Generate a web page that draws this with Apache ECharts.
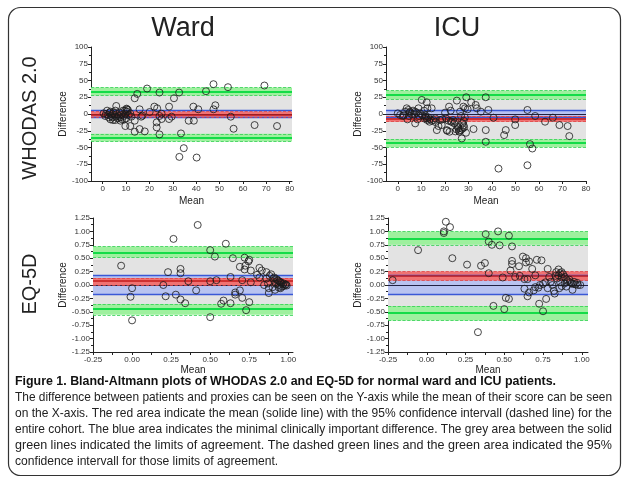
<!DOCTYPE html>
<html><head><meta charset="utf-8">
<script src="https://cdn.jsdelivr.net/npm/echarts@6/dist/echarts.min.js"></script>
<style>html,body{margin:0;padding:0;background:#fff}#c{width:629px;height:477px}</style>
</head><body><div id="c"></div><script>
// ---------- DATA ----------
var panelTitles = ['Ward', 'ICU'];
var rowTitles = ['WHODAS 2.0', 'EQ-5D'];
var whodasXTicks = [0, 10, 20, 30, 40, 50, 60, 70, 80];
var eqXTicks = [-0.25, 0, 0.25, 0.5, 0.75, 1.0];

var wardWhodasPoints = [
 [69.2,42.5],[47.4,44.5],[53.6,40],[44.2,34],[19,38],[14.8,30],[24.3,32],[32.7,32],[13.7,23.5],[30.5,23.5],
 [48.2,13],[47.4,7],[38.8,11],[40.9,7],[28.4,11],[22.1,11],[23.3,8.5],[15.8,7],[20.1,3],[10.4,7],[5.8,12],
 [54.8,-4],[56,-22],[65,-16.5],[74.6,-18],[36.8,-10],[39,-10],[33.5,-29],[24.3,-30.5],[23.1,-12.5],[23.1,-20],
 [18,-26],[15.8,-22.5],[13.7,-26.5],[13.7,-10],[9.7,-18],[11.8,-18],[17,-2.5],[25.2,0.5],[24.3,-3],[25.2,-7.5],
 [28.4,-7.5],[29.5,-4],[34.7,-51],[32.8,-64],[40.2,-65],[7.6,-10],[9.4,-8],
 [0.4,1],[1.4,0],[1.9,5],[2.3,-1.5],[2.9,2],[3.3,3.5],[3.6,-3],[4.0,0],[4.3,-5],[4.7,2],[5.0,-1.5],[5.4,5],
 [5.7,-4],[6.1,0],[6.4,-6.5],[6.8,-3],[7.3,2],[7.6,-5],[8.0,-1.5],[8.3,-8],[9.0,-3],[9.7,0],[10.4,3.5],
 [10.8,6],[11.1,-1.5],[11.8,1],[12.3,-4],[10.1,-6.5],[8.7,5],[2.6,-5],[1.1,-3],[4.4,-9],[3.3,-8],[5.4,-9],
 [9.5,5],[10.2,8],[16.5,-4]
];
var icuWhodasPoints = [
 [0,1],[1,-1.5],[2.1,-3],[3.1,3.5],[3.8,8.5],[4.5,6],[5.2,3.5],[4.1,-8],[6,0],[7.4,3.5],[7.4,-14],[8.4,-8],
 [8.8,8.5],[10.2,21],[11.2,5],[12.3,17.5],[12.6,8.5],[13,-5],[13.5,-11.5],[14.4,8.5],[15.2,-9],[9.5,1],
 [11.6,-1.5],[12.3,-6.5],[13.7,-8],[15.9,-6.5],[16.6,-24],[17.3,-18],[18.7,-16.5],[20.1,2],[20.5,-6.5],
 [20.8,-24],[21.8,11],[22,-26.5],[22.5,5],[25.1,20],[24.4,-11.5],[25.8,-21.5],[26.2,-26.5],[26.5,3.5],
 [26.9,-3],[27.2,-36.5],[27.9,11],[28.2,-20],[28.6,8.5],[29.1,25],[29.7,7],[31.2,17.5],[32.2,-22.5],
 [33.1,13.5],[33.6,8.5],[35.3,3.5],[37.4,25],[37.4,-24],[37.4,-41.5],[38.5,6],[40.7,-5.5],[42.8,-81.5],
 [45.2,-31.5],[45.9,-24],[49.9,-8],[49.9,-16.5],[55.1,6],[55.1,-76.5],[56.2,-45],[57.2,-51.5],[58.4,-3],
 [62.6,-11.5],[65.9,-5.5],[68.7,-16.5],[72.2,-18],[72.9,-33],
 [25,-23],[25.5,-19],[26,-25],[26.8,-24],[27.5,-22],[28,-17],[27.5,-14],[28,-10],[28.5,-5],[10.5,-2],
 [11.5,-7],[12.5,-9],[11.8,-4],[14.5,-10],[16,-12],[19,-8],[21.5,-10],[23,-12],[24,-14],[18,-9],[8,2],
 [9,-3],[2.5,-2],[5,2],[6.5,5],[4.8,-3],[7,-1],[22.5,-11],[23.5,-9],[21,-25],[24.5,-26],[29,-28]
];
var wardEqPoints = [
 [-0.07,0.36],[0.0,-0.06],[-0.01,-0.22],[0.0,-0.66],[0.265,0.86],[0.23,0.24],[0.2,0.0],[0.215,-0.21],
 [0.28,-0.18],[0.31,0.30],[0.31,0.22],[0.31,-0.27],[0.34,-0.34],[0.36,0.07],[0.41,-0.10],[0.42,1.12],
 [0.50,0.65],[0.53,0.53],[0.50,0.07],[0.54,0.09],[0.50,-0.60],[0.60,0.77],[0.645,0.50],[0.63,0.15],
 [0.57,-0.35],[0.585,-0.29],[0.63,-0.34],[0.66,-0.14],[0.66,-0.18],[0.69,-0.10],[0.69,0.34],[0.705,-0.24],
 [0.705,0.09],[0.72,0.51],[0.72,0.29],[0.725,0.36],[0.745,0.44],[0.75,0.47],[0.75,-0.32],[0.73,-0.47],
 [0.76,0.05],[0.76,0.27],[0.80,0.19],[0.815,0.32],[0.83,0.27],[0.815,0.14],[0.845,0.0],[0.86,0.24],
 [0.86,0.12],[0.875,-0.06],[0.875,-0.15],[0.89,0.20],[0.905,0.12],[0.915,0.05],[0.90,-0.04],[0.93,0.09],
 [0.94,0.0],[0.95,0.05],[0.96,-0.03],[0.965,0.01],[0.97,-0.02],[0.98,0.0],[0.915,-0.09],[0.94,-0.05],
 [0.95,-0.06],[0.88,0.17],[0.91,0.14],[0.925,0.11],[0.935,0.08],[0.945,0.06],[0.955,0.04],[0.97,0.03],
 [0.985,0.01],[0.99,-0.01],[0.92,0.02],[0.87,0.03]
];
var icuEqPoints = [
 [-0.22,0.09],[-0.056,0.65],[0.11,1.0],[0.11,0.97],[0.123,1.18],[0.15,1.08],[0.165,0.50],[0.26,0.38],
 [0.33,-0.88],[0.35,0.36],[0.375,0.41],[0.38,0.95],[0.40,0.81],[0.42,0.75],[0.40,0.22],[0.43,-0.39],
 [0.46,1.0],[0.47,0.74],[0.49,0.14],[0.50,-0.45],[0.51,-0.24],[0.53,-0.26],[0.53,0.92],[0.55,0.72],
 [0.55,0.45],[0.55,0.39],[0.54,0.27],[0.57,0.15],[0.60,0.17],[0.595,0.35],[0.62,0.53],[0.64,0.50],
 [0.63,0.11],[0.65,0.11],[0.64,0.42],[0.66,0.44],[0.68,0.30],[0.70,0.18],[0.71,0.47],[0.74,0.46],
 [0.63,-0.07],[0.66,-0.14],[0.65,-0.21],[0.69,-0.10],[0.72,-0.05],[0.725,-0.35],[0.75,-0.49],[0.77,-0.26],
 [0.78,0.30],[0.765,0.05],[0.79,0.15],[0.81,0.0],[0.82,-0.11],[0.825,-0.16],[0.835,0.24],[0.85,0.29],
 [0.86,0.22],[0.87,0.14],[0.88,0.20],[0.89,0.15],[0.90,0.11],[0.91,0.07],[0.925,0.05],[0.935,0.03],
 [0.945,0.02],[0.96,0.01],[0.975,0.0],[0.99,0.0],[0.94,-0.09],[0.855,-0.06],[0.78,-0.06],[0.80,0.06],
 [0.84,0.12],[0.86,0.05],[0.87,-0.02],[0.89,0.03],[0.90,-0.03],[0.75,0.02],[0.73,0.0],[0.70,-0.04],
 [0.83,0.17],[0.85,0.18],[0.87,0.24],[0.92,0.1],[0.95,0.06],[0.97,0.04]
];
// [mean, ciLow, ciHigh]
var wardWhodasMean = [-1, -5, 3.5];
var wardWhodasUpper = [33, 27.5, 39.5];
var wardWhodasLower = [-35, -41, -29.5];
var icuWhodasMean = [-7.5, -11.5, -3];
var icuWhodasUpper = [28, 22, 35];
var icuWhodasLower = [-43, -49.5, -37.5];
var wardEqMean = [0.07, 0.0, 0.13];
var wardEqUpper = [0.61, 0.515, 0.72];
var wardEqLower = [-0.45, -0.555, -0.355];
var icuEqMean = [0.17, 0.085, 0.25];
var icuEqUpper = [0.86, 0.75, 1.0];
var icuEqLower = [-0.51, -0.66, -0.39];
var whodasMcid = 5;
var eqMcid = 0.18;

var captionTitle = 'Figure 1. Bland-Altmann plots of WHODAS 2.0 and EQ-5D for normal ward and ICU patients.';
var caption = [
  'The difference between patients and proxies can be seen on the Y-axis while the mean of their score can be seen',
  'on the X-axis. The red area indicate the mean (solide line) with the 95% confidence intervall (dashed line) for the',
  'entire cohort. The blue area indicates the minimal clinically important difference. The grey area between the solid',
  'green lines indicated the limits of agreement. The dashed green lines and the green area indicated the 95%',
  'confidence intervall for those limits of agreement.'
];

// ---------- CHART ----------
var chart = echarts.init(document.getElementById('c'), null, {renderer: 'canvas'});
var FONT = "'Liberation Sans', Arial, sans-serif";

var grids = [
  {left: 91, width: 201, top: 47, height: 134},
  {left: 386, width: 200, top: 47, height: 134},
  {left: 93, width: 200, top: 218, height: 134},
  {left: 388, width: 200, top: 218, height: 134}
];
var xRanges = [[-5, 81], [-5, 80], [-0.25, 1.03], [-0.25, 1.04]];
var yRanges = [[-100, 100], [-100, 100], [-1.25, 1.25], [-1.25, 1.25]];

function fmtEq(v) { if (Math.abs(v) < 1e-9) return '0.00'; return v.toFixed(2); }

var xAxes = [], yAxes = [], series = [];
var panels = [
  {pts: wardWhodasPoints, m: wardWhodasMean, u: wardWhodasUpper, l: wardWhodasLower, mcid: whodasMcid, eq: false},
  {pts: icuWhodasPoints, m: icuWhodasMean, u: icuWhodasUpper, l: icuWhodasLower, mcid: whodasMcid, eq: false},
  {pts: wardEqPoints, m: wardEqMean, u: wardEqUpper, l: wardEqLower, mcid: eqMcid, eq: true},
  {pts: icuEqPoints, m: icuEqMean, u: icuEqUpper, l: icuEqLower, mcid: eqMcid, eq: true}
];

var axisCommon = {
  axisLine: {show: true, onZero: false, lineStyle: {color: '#222', width: 1}},
  splitLine: {show: false}
};

panels.forEach(function (p, i) {
  var xTickVals = p.eq ? [-0.25,-0.125,0,0.125,0.25,0.375,0.5,0.625,0.75,0.875,1.0] : whodasXTicks;
  xAxes.push(Object.assign({
    type: 'value', gridIndex: i, min: xRanges[i][0], max: xRanges[i][1],
    name: 'Mean', nameLocation: 'middle', nameGap: p.eq ? 13 : 15,
    nameTextStyle: {fontSize: 10, color: '#222', fontFamily: FONT},
    axisTick: {show: true, length: 3, customValues: xTickVals, lineStyle: {color: '#222'}},
    axisLabel: {show: true, customValues: p.eq ? eqXTicks : whodasXTicks, fontSize: 8, color: '#333', margin: 4,
      fontFamily: FONT, formatter: function (v) { return p.eq ? fmtEq(v) : String(v); }}
  }, axisCommon));
  yAxes.push(Object.assign({
    type: 'value', gridIndex: i, min: yRanges[i][0], max: yRanges[i][1], interval: p.eq ? 0.25 : 25,
    name: 'Difference', nameLocation: 'middle', nameGap: p.eq ? 25 : 20,
    nameTextStyle: {fontSize: 10, color: '#222', fontFamily: FONT},
    axisTick: {show: true, length: 3, lineStyle: {color: '#222'}},
    minorTick: {show: true, splitNumber: 2, length: 2, lineStyle: {color: '#222'}},
    axisLabel: {fontSize: 8, color: '#333', margin: 3, fontFamily: FONT,
      formatter: function (v) { return p.eq ? fmtEq(v) : String(Math.round(v)); }}
  }, axisCommon));

  var base = {type: 'scatter', xAxisIndex: i, yAxisIndex: i, data: [], silent: true, animation: false};
  function area(a, b, color, z) {
    return Object.assign({}, base, {z: z, markArea: {silent: true, itemStyle: {color: color},
      data: [[{yAxis: a}, {yAxis: b}]]}});
  }
  series.push(area(p.l[0], p.u[0], '#e3e3e3', 1));
  series.push(area(-p.mcid, p.mcid, '#b8c3f0', 2));
  series.push(area(p.m[1], p.m[2], '#f07272', 3));
  series.push(Object.assign({}, base, {z: 4, markArea: {silent: true, itemStyle: {color: '#9ef09e'},
    data: [[{yAxis: p.u[1]}, {yAxis: p.u[2]}], [{yAxis: p.l[1]}, {yAxis: p.l[2]}]]}}));
  function ln(v, color, w, type) { return {yAxis: v, lineStyle: {color: color, width: w, type: type}}; }
  series.push(Object.assign({}, base, {z: 5, markLine: {silent: true, symbol: 'none', label: {show: false},
    animation: false,
    data: [
      ln(p.mcid, '#3a58d6', 1.3, 'solid'), ln(-p.mcid, '#3a58d6', 1.3, 'solid'),
      ln(0, '#222244', 1, 'solid'),
      ln(p.m[1], '#e04444', 0.8, 'dashed'), ln(p.m[2], '#e04444', 0.8, 'dashed'),
      ln(p.m[0], '#c41c1c', 1.5, 'solid'),
      ln(p.u[1], '#30d050', 0.8, 'dashed'), ln(p.u[2], '#30d050', 0.8, 'dashed'),
      ln(p.l[1], '#30d050', 0.8, 'dashed'), ln(p.l[2], '#30d050', 0.8, 'dashed'),
      ln(p.u[0], '#14dc48', 2.2, 'solid'), ln(p.l[0], '#14dc48', 2.2, 'solid')
    ]}}));
  series.push({type: 'scatter', xAxisIndex: i, yAxisIndex: i, z: 10, data: p.pts, symbol: 'circle',
    symbolSize: 7, silent: true, animation: false,
    itemStyle: {color: 'rgba(0,0,0,0)', borderColor: '#1a1a1a', borderWidth: 1}});
});

// caption: fit each text line to the reference line width by horizontal scaling
var mctx = document.createElement('canvas').getContext('2d');
function measure(t, font) { mctx.font = font; return mctx.measureText(t).width; }
var CAPFONT = "'Liberation Sans', Arial, sans-serif";
var capFont = '13px ' + CAPFONT, capBold = 'bold 13px ' + CAPFONT;
var lineTarget = 597, titleTarget = 541;
var scales = caption.slice(0, 4).map(function (t) { return lineTarget / measure(t, capFont); });
var avgScale = scales.reduce(function (a, b) { return a + b; }, 0) / scales.length;

var graphics = [
  {type: 'rect', shape: {x: 8.5, y: 7.5, width: 612, height: 468, r: 12}, z: -10,
   style: {fill: 'none', stroke: '#333', lineWidth: 1.2}},
  {type: 'text', x: 183, y: 29, style: {text: panelTitles[0], font: '27px ' + FONT, fill: '#222', textAlign: 'center', textVerticalAlign: 'middle'}},
  {type: 'text', x: 457, y: 29, style: {text: panelTitles[1], font: '27px ' + FONT, fill: '#222', textAlign: 'center', textVerticalAlign: 'middle'}},
  {type: 'text', x: 30, y: 118, rotation: Math.PI / 2, style: {text: rowTitles[0], font: '20px ' + FONT, fill: '#222', textAlign: 'center', textVerticalAlign: 'middle'}},
  {type: 'text', x: 30, y: 284, rotation: Math.PI / 2, style: {text: rowTitles[1], font: '20px ' + FONT, fill: '#222', textAlign: 'center', textVerticalAlign: 'middle'}},
  {type: 'text', x: 15, y: 381, scaleX: titleTarget / measure(captionTitle, capBold),
   style: {text: captionTitle, font: capBold, fill: '#111', textVerticalAlign: 'middle'}}
];
caption.forEach(function (t, k) {
  graphics.push({type: 'text', x: 15, y: 397 + 16 * k, scaleX: k < 4 ? scales[k] : avgScale,
    style: {text: t, font: capFont, fill: '#222', textVerticalAlign: 'middle'}});
});

chart.setOption({
  animation: false,
  backgroundColor: '#fff',
  grid: grids,
  xAxis: xAxes,
  yAxis: yAxes,
  series: series,
  graphic: graphics
});
</script></body></html>
